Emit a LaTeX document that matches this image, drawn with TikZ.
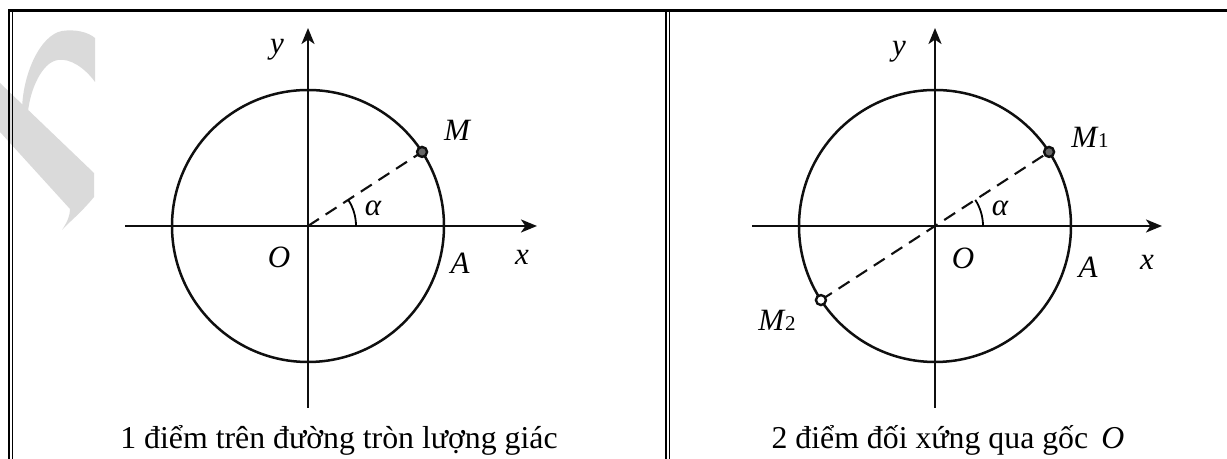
\documentclass[tikz,border=0pt]{standalone}
\usepackage{fontspec}
\setmainfont{Liberation Serif}
\usetikzlibrary{positioning,calc,arrows.meta}
\definecolor{edgeDark}{RGB}{15,15,15}
\definecolor{markGray}{RGB}{218,218,218}

\begin{document}
\begin{tikzpicture}[
  x=0.5pt,y=0.5pt,
  frame/.style={line width=0.7pt,draw=black},
  axisLine/.style={line width=1.25pt,draw=edgeDark,
                   -{Stealth[length=8pt,width=6.5pt,inset=2.2pt]}},
  circLine/.style={line width=1.25pt,draw=edgeDark},
  rayLine/.style={line width=1.05pt,draw=edgeDark,dash pattern=on 6.5pt off 4pt},
  ptMark/.style={line width=1.2pt,draw=edgeDark,fill=black!60},
  ptOpen/.style={line width=1.2pt,draw=edgeDark,fill=white},
  lbl/.style={font=\fontsize{15.5}{17}\selectfont\itshape,inner sep=0pt},
  capt/.style={font=\fontsize{15.9}{18}\selectfont,inner sep=0pt,anchor=base}
]
\useasboundingbox (0,0) rectangle (1227,459);

% ==========  watermark (behind everything)  ==========
\fill[markGray] (22,347) .. controls (22,384) and (40,424) .. (62,428)
  .. controls (75,430) and (88,427) .. (95,421) -- (95,377)
  .. controls (85,391) and (70,401) .. (58,399)
  .. controls (42,397) and (30,369) .. (28,347) -- cycle;
\fill[markGray] (0,376) -- (94,286) -- (94,262)
  .. controls (80,245) and (68,236) .. (62,229)
  .. controls (68,238) and (70,244) .. (70,250) -- (0,327) -- cycle;

% ==========  table frame  ==========
\draw[line width=1.25pt] (8,448.5) -- (1227,448.5);
\draw[frame] (9,449) -- (9,0);
\draw[frame] (12.5,447.5) -- (12.5,0);
\draw[frame] (666,447.5) -- (666,0);
\draw[frame] (669.5,447.5) -- (669.5,0);

% ==========  LEFT: one point on the unit circle  ==========
\coordinate (O1) at (308,233);
\coordinate (xL1) at (125,233);
\coordinate (xR1) at (537,233);
\coordinate (yB1) at (308,51);
\coordinate (yT1) at (308,431);
\coordinate (M) at ($(O1)+(33:136)$);

\draw[axisLine] (xL1) -- (xR1);
\draw[axisLine] (yB1) -- (yT1);
\draw[circLine] (O1) circle[radius=136];
\draw[rayLine] (O1) -- (M);
\draw[line width=0.9pt] ($(O1)+(0:48)$) arc[start angle=0,end angle=33,radius=48];
\draw[ptMark] (M) circle[radius=5];

\node[lbl] (lbY1) at (277,409) {y};
\node[lbl] (lbM) at (457,329) {M};
\node[lbl] (lbA1) at (460,196) {A};
\node[lbl] (lbX1) at (522,202) {x};
\node[lbl] (lbO1) at (279,202) {O};
\node[lbl] (lbAl1) at (373,251) {α};

\node[capt] (cap1) at (339,10) {1 điểm trên đường tròn lượng giác};

% ==========  RIGHT: two points symmetric about O  ==========
\coordinate (O2) at (935,233);
\coordinate (xL2) at (752,233);
\coordinate (xR2) at (1162,233);
\coordinate (yB2) at (935,51);
\coordinate (yT2) at (935,431);
\coordinate (M1) at ($(O2)+(33:136)$);
\coordinate (M2) at ($(O2)+(213:136)$);

\draw[axisLine] (xL2) -- (xR2);
\draw[axisLine] (yB2) -- (yT2);
\draw[circLine] (O2) circle[radius=136];
\draw[rayLine] (M2) -- (M1);
\draw[line width=0.9pt] ($(O2)+(0:48)$) arc[start angle=0,end angle=33,radius=48];
\draw[ptMark] (M1) circle[radius=5];
\draw[ptOpen] (M2) circle[radius=5];

\node[lbl] (lbY2) at (899,407) {y};
\node[lbl] (lbM1) at (1090,322) {M\kern0.5pt{\fontsize{10.5}{11}\selectfont\upshape 1}};
\node[lbl] (lbM2) at (777,139) {M\kern0.5pt{\fontsize{10.5}{11}\selectfont\upshape 2}};
\node[lbl] (lbO2) at (963,201) {O};
\node[lbl] (lbA2) at (1088,192) {A};
\node[lbl] (lbX2) at (1147,197) {x};
\node[lbl] (lbAl2) at (1000,251) {α};

\node[capt] (cap2) at (948,10) {2 điểm đối xứng qua gốc~\,\textit{O}};

\end{tikzpicture}
\end{document}
